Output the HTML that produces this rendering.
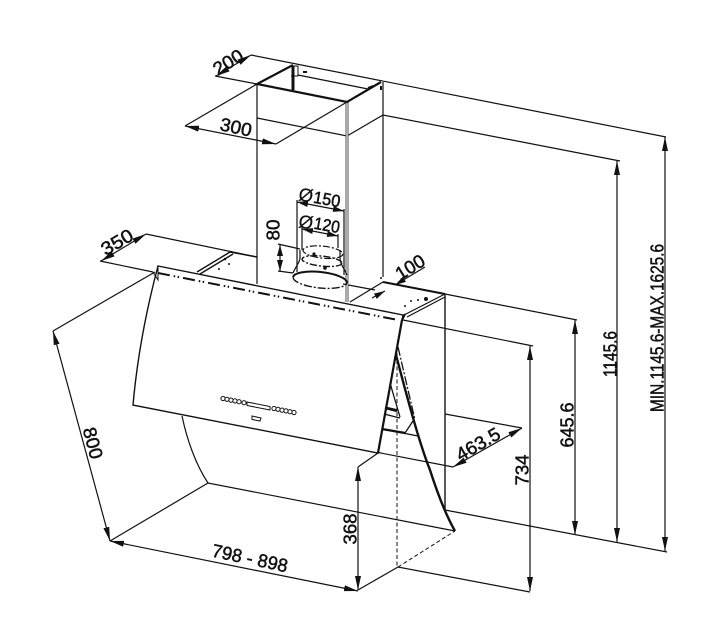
<!DOCTYPE html>
<html><head><meta charset="utf-8"><style>
html,body{margin:0;padding:0;background:#fff;width:720px;height:629px;overflow:hidden}
svg{display:block}
text{font-family:"Liberation Sans",sans-serif;font-size:18.5px;fill:#111;text-anchor:middle;stroke:#111;stroke-width:.5}
</style></head><body>
<svg width="720" height="629" viewBox="0 0 720 629" xmlns="http://www.w3.org/2000/svg">
<defs>
<marker id="a" viewBox="0 0 14 8" refX="14" refY="4" markerWidth="14" markerHeight="8" markerUnits="userSpaceOnUse" orient="auto-start-reverse"><path d="M0 1 L14 4 L0 7Z" fill="#111"/></marker>
<marker id="b" viewBox="0 0 11 7" refX="11" refY="3.500" markerWidth="11" markerHeight="7" markerUnits="userSpaceOnUse" orient="auto-start-reverse"><path d="M0 .5 L11 3.500 L0 6.500Z" fill="#111"/></marker>
</defs>
<g fill="none" stroke="#111" stroke-width="1.2">
<!-- extension lines -->
<path d="M251 55L666 137M215 76L257 84M185 126L257 84M276 144L347 102M257 118L347 136L383 115L620 161"/>
<path d="M146 234L257 257M100 261L153 272M53 331L155 272M110 541L208 483L455 531M133 405L453 467M358 590L398 567L530 592M358 467L378 453M445 414L522 428M403 320L533 346M445 294L577 320M445 510L667 552"/>
<path d="M445 294V510" stroke-width="1.5" stroke="#222"/>
<!-- dimension lines -->
<g marker-start="url(#a)" marker-end="url(#a)">
<path d="M251 55L216 76"/>
<path d="M185 126L276 144"/>
<path d="M146 234L101 261"/>
<path d="M53 331L110 541"/>
<path d="M110 541L358 591"/>
<path d="M358 467L358 590"/>
<path d="M530 346L530 591"/>
<path d="M575 320L575 535"/>
<path d="M617 161L617 542"/>
<path d="M665 137L665 551"/>
<path d="M522 428L453 467"/>
</g>
<g marker-start="url(#b)" marker-end="url(#b)">
<path d="M297 202L344 211"/>
<path d="M302 229L338 236"/>
<path d="M280 245L280 271"/>
</g>
<path d="M425 267L395 285" marker-end="url(#b)"/>
<path d="M372 298L385 291" marker-end="url(#b)"/>
<path d="M297 200V272M344 209V275M302 227V250M338 234V248M278 244L300 249M278 271L293 273M343 284L375 290"/>
<!-- duct -->
<path d="M257 84V284M383 82V277M350 302L383 282"/>
<path d="M347 102V302" stroke-width="3" stroke="#555"/>
<path d="M347 102V302" stroke-width="1" stroke="#fff"/>
<path d="M293 65L257 84L347 102L381 82" stroke-width="2.2"/>
<path d="M298 75L368 89" />
<path d="M293 66V90" stroke-width="3"/>
<path d="M291 66H298V76H291" stroke-width="1"/>
<path d="M303 72H307" stroke-width="2"/>
<path d="M368 88L373 86M381 86V90" stroke-width="2"/>
<!-- collar -->
<path d="M293 273C296 266 300 262 300 258V250M347 275C344 268 340 264 340 258V250"/>
<g transform="rotate(6 320 280)">
<path d="M293 280A27 8 0 0 1 347 280" stroke-width="2"/>
<path d="M293 280A27 8 0 0 0 347 280" stroke-width="1.4" stroke-dasharray="8 2 2 2"/>
<ellipse cx="320" cy="252" rx="20" ry="6" stroke-dasharray="7 2 2 2"/>
<ellipse cx="320" cy="261" rx="20" ry="5" stroke-dasharray="7 2 2 2" stroke-width="1.4"/>
</g>
<circle cx="314" cy="254" r="1.6" fill="#111" stroke="none"/><circle cx="325" cy="268" r="1.8" fill="#111" stroke="none"/>
<!-- flanges -->
<path d="M197 272L230 252M200 274L233 254M230 252L257 257" stroke-width="1.4"/>
<path d="M383 282L445 294" stroke-width="2"/>
<path d="M404 315L445 294M407 317L445 297"/>
<g fill="#111" stroke="none"><circle cx="225" cy="259" r="1.3"/><circle cx="229" cy="264" r="1"/><circle cx="219" cy="269" r="1"/><circle cx="426" cy="299" r="2"/><circle cx="411" cy="301" r="1"/><circle cx="418" cy="300" r="1"/><circle cx="405" cy="306" r="1"/><circle cx="381" cy="278" r="1"/></g>
<!-- hood panel -->
<path d="M158 266L403 315L378 453L133 405C137 360 145 315 158 266Z" fill="#fff" stroke-width="1.4"/>
<path d="M158 273L398 320" stroke-width="2" stroke-dasharray="12 4 1.500 2.500 1.500 4"/>
<path d="M153 272L158 280L158 266" stroke-width="1"/>
<path d="M402 320L405 314" stroke-width="2"/>
<!-- under panel -->
<path d="M182 416C187 440 196 465 208 483"/>
<path d="M402 320L378 453" stroke-width="2.2"/>
<path d="M396 355C404 385 418 440 430 470C438 495 447 517 455 531" stroke-width="2.4"/>
<path d="M398 347L415 420" stroke-width="1.3" stroke-dasharray="9 2 2 2"/>
<path d="M390 383L400 417M385 407L398 410M384 414L400 418M382 429L418 436M405 433L413 421" stroke-width="1.3"/>
<path d="M382 429L405 433" stroke-width="2.4"/>
<path d="M385 408L397 411" stroke-width="2.4"/>
<path d="M397 347V567" stroke-width="1" stroke-dasharray="4 2.500"/>
<path d="M398 567L455 531" stroke-width="1" stroke-dasharray="4 2.500"/>
<!-- controls -->
<g stroke-width="1" fill="#fff">
<circle cx="223" cy="398.500" r="2.100"/><circle cx="227" cy="399.300" r="2.100"/><circle cx="231" cy="400.100" r="2.100"/><circle cx="235" cy="400.900" r="2.100"/><circle cx="239" cy="401.700" r="2.100"/><circle cx="244" cy="402.700" r="2.100"/>
<circle cx="274" cy="408.500" r="2.100"/><circle cx="278" cy="409.300" r="2.100"/><circle cx="282" cy="410.100" r="2.100"/><circle cx="286" cy="410.900" r="2.100"/><circle cx="290" cy="411.700" r="2.100"/><circle cx="294" cy="412.500" r="2.100"/>
<path d="M247 402L270 406.500L270 410L247 405.500Z"/>
<path d="M252 416L261 418L260 421L252 419.500Z"/>
</g>
</g>
<!-- labels -->
<text transform="translate(228 62) rotate(-32)" dy="6.500" textLength="32" lengthAdjust="spacingAndGlyphs">200</text>
<text transform="translate(236 127) rotate(12)" dy="6.500" textLength="32" lengthAdjust="spacingAndGlyphs">300</text>
<text transform="translate(117 242) rotate(-30)" dy="6.500" textLength="34" lengthAdjust="spacingAndGlyphs">350</text>
<text transform="translate(273 230) rotate(-90)" dy="6.500" textLength="21" lengthAdjust="spacingAndGlyphs">80</text>
<text transform="translate(327 199) rotate(10)" dy="6" style="font-size:17px" textLength="27" lengthAdjust="spacingAndGlyphs">150</text>
<text transform="translate(306 195) rotate(10)" dy="6.500" style="stroke-width:.2">Ø</text>
<text transform="translate(327 225) rotate(10)" dy="6" style="font-size:17px" textLength="26" lengthAdjust="spacingAndGlyphs">120</text>
<text transform="translate(306 222) rotate(10)" dy="6.500" style="stroke-width:.2">Ø</text>
<text transform="translate(410 267) rotate(-32)" dy="6.500" textLength="31" lengthAdjust="spacingAndGlyphs">100</text>
<text transform="translate(93 443) rotate(75)" dy="6.500" textLength="32" lengthAdjust="spacingAndGlyphs">800</text>
<text transform="translate(250 558) rotate(12)" dy="6.500" textLength="77" lengthAdjust="spacingAndGlyphs">798 - 898</text>
<text transform="translate(350 529) rotate(-90)" dy="6.500" textLength="31" lengthAdjust="spacingAndGlyphs">368</text>
<text transform="translate(522 470) rotate(-90)" dy="6.500" textLength="31" lengthAdjust="spacingAndGlyphs">734</text>
<text transform="translate(478 444) rotate(-30)" dy="6.500" textLength="48" lengthAdjust="spacingAndGlyphs">463.5</text>
<text transform="translate(567 425) rotate(-90)" dy="6.500" textLength="45" lengthAdjust="spacingAndGlyphs">645.6</text>
<text transform="translate(610 354) rotate(-90)" dy="6.500" textLength="46" lengthAdjust="spacingAndGlyphs">1145.6</text>
<text transform="translate(657 328) rotate(-90)" dy="6.500" textLength="168" lengthAdjust="spacingAndGlyphs">MIN.1145.6-MAX.1625.6</text>
</svg>
</body></html>
